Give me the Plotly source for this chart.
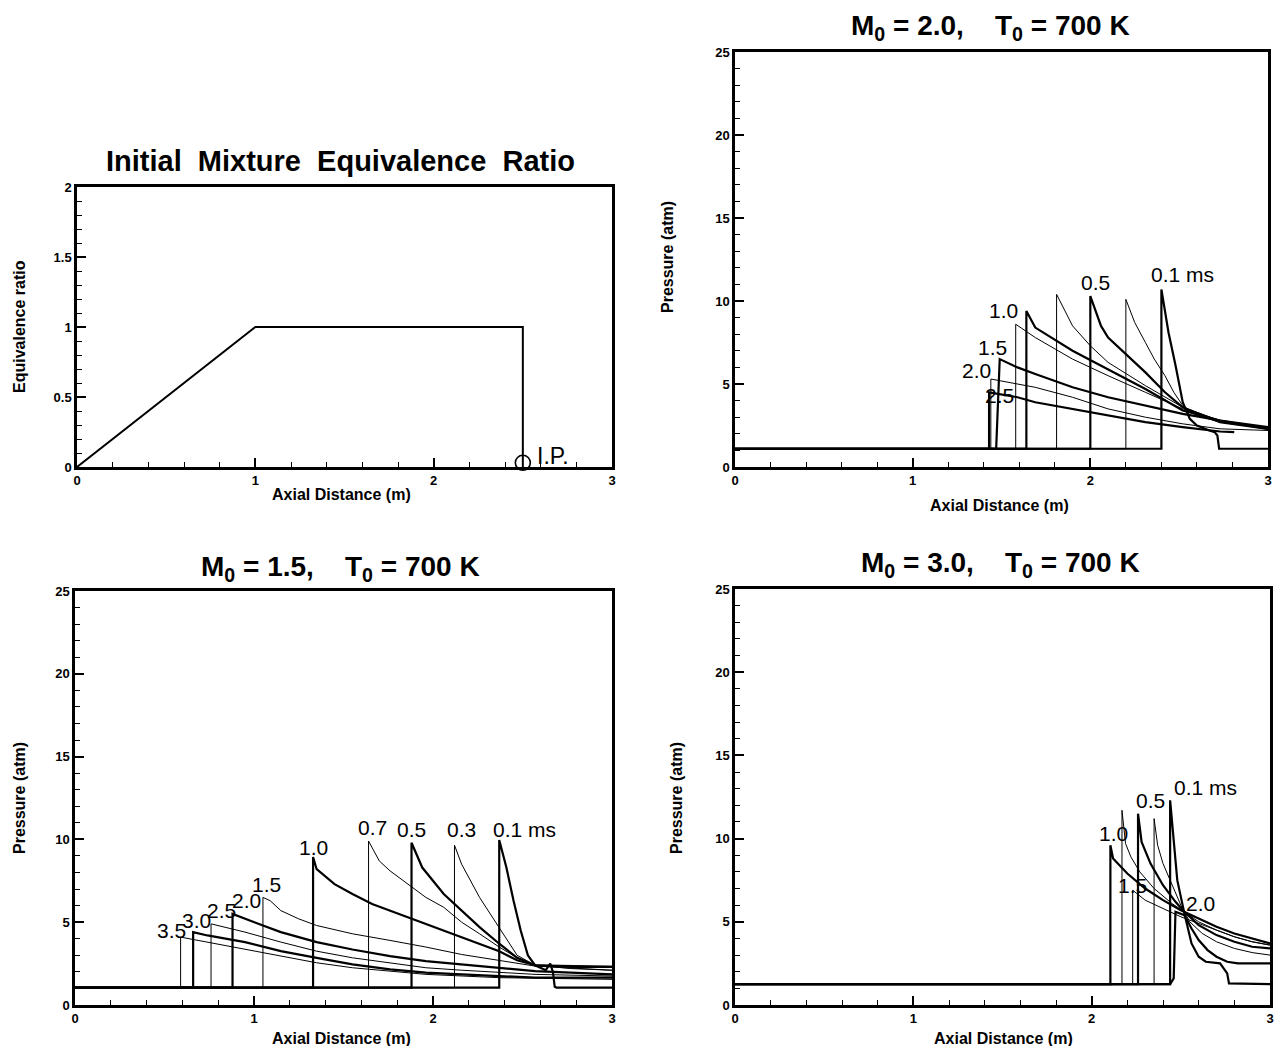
import plotly.graph_objects as go

# ---------------- data ----------------
# Top-left: initial mixture equivalence ratio
phi_x = [0.0, 1.0, 2.5, 2.5]
phi_y = [0.0, 1.0, 1.0, 0.0]
ip_x = [2.5]
ip_y = [0.03]

# M0 = 2.0 pressure profiles (x in m, p in atm)
m20_labels = ["0.1", "0.3", "0.5", "0.7", "1.0", "1.2", "1.5", "2.0", "2.5"]
m20_x = [
    [0, 2.40, 2.40, 2.44, 2.48, 2.52, 2.56, 2.60, 2.67, 2.70, 2.715, 2.725, 3.0],
    [0, 2.20, 2.20, 2.25, 2.31, 2.36, 2.42, 2.47, 2.52, 2.60, 2.73, 3.0],
    [0, 2.00, 2.00, 2.06, 2.10, 2.21, 2.31, 2.42, 2.52, 2.73, 3.0],
    [0, 1.81, 1.81, 1.90, 2.00, 2.10, 2.31, 2.52, 2.73, 3.0],
    [0, 1.64, 1.64, 1.69, 1.90, 2.10, 2.31, 2.52, 2.73, 3.0],
    [0, 1.58, 1.58, 1.69, 1.90, 2.10, 2.31, 2.52, 2.73, 3.0],
    [0, 1.47, 1.49, 1.59, 1.69, 1.90, 2.10, 2.31, 2.52, 2.73, 3.0],
    [0, 1.44, 1.44, 1.59, 1.69, 1.90, 2.10, 2.31, 2.52, 2.73, 3.0],
    [0, 1.43, 1.43, 1.59, 1.69, 1.90, 2.10, 2.31, 2.52, 2.73, 2.81],
]
m20_y = [
    [1.1, 1.1, 10.7, 8.1, 6.1, 3.9, 2.9, 2.5, 2.2, 2.1, 1.9, 1.1, 1.1],
    [1.1, 1.1, 10.1, 8.7, 7.5, 6.5, 5.5, 4.5, 3.7, 3.1, 2.7, 2.3],
    [1.1, 1.1, 10.3, 8.5, 7.8, 6.7, 5.7, 4.5, 3.6, 2.7, 2.3],
    [1.1, 1.1, 10.4, 8.5, 7.3, 6.3, 4.9, 3.6, 2.8, 2.3],
    [1.1, 1.1, 9.4, 8.4, 7.0, 5.9, 4.7, 3.4, 2.8, 2.3],
    [1.1, 1.1, 8.6, 7.8, 6.5, 5.5, 4.5, 3.5, 2.8, 2.3],
    [1.1, 1.1, 6.5, 6.0, 5.6, 4.8, 4.2, 3.7, 3.2, 2.8, 2.4],
    [1.1, 1.1, 5.3, 5.0, 4.8, 4.2, 3.5, 3.0, 2.6, 2.3, 2.2],
    [1.1, 1.1, 4.5, 4.2, 3.9, 3.5, 3.1, 2.7, 2.4, 2.14, 2.1],
]

# M0 = 1.5 pressure profiles
m15_labels = ["0.1", "0.3", "0.5", "0.7", "1.0", "1.5", "2.0", "2.5", "3.0", "3.5"]
m15_x = [
    [0, 2.37, 2.37, 2.41, 2.45, 2.49, 2.53, 2.57, 2.63, 2.655, 2.67, 2.68, 2.69, 3.0],
    [0, 2.12, 2.12, 2.16, 2.26, 2.37, 2.47, 2.57, 2.77, 3.0],
    [0, 1.88, 1.88, 1.94, 2.06, 2.16, 2.26, 2.37, 2.47, 2.57, 2.77, 3.0],
    [0, 1.64, 1.64, 1.70, 1.76, 1.86, 1.96, 2.06, 2.16, 2.26, 2.37, 2.47, 2.57, 3.0],
    [0, 1.33, 1.33, 1.35, 1.45, 1.55, 1.66, 1.76, 1.96, 2.16, 2.37, 2.47, 2.57, 3.0],
    [0, 1.05, 1.05, 1.09, 1.15, 1.25, 1.35, 1.55, 1.76, 1.96, 2.16, 2.37, 2.57, 3.0],
    [0, 0.88, 0.88, 0.95, 1.05, 1.15, 1.35, 1.55, 1.76, 1.96, 2.16, 2.37, 2.57, 2.77, 3.0],
    [0, 0.76, 0.76, 0.84, 0.95, 1.15, 1.35, 1.55, 1.76, 1.96, 2.16, 2.37, 2.57, 3.0],
    [0, 0.66, 0.66, 0.74, 0.95, 1.15, 1.35, 1.55, 1.76, 1.96, 2.16, 2.37, 2.57, 3.0],
    [0, 0.59, 0.59, 0.74, 0.95, 1.15, 1.35, 1.55, 1.76, 1.96, 2.37, 3.0],
]
m15_y = [
    [1.05, 1.05, 9.96, 8.3, 6.3, 4.5, 3.0, 2.4, 2.1, 2.5, 2.0, 1.1, 1.05, 1.05],
    [1.05, 1.05, 9.65, 8.5, 6.5, 4.7, 3.0, 2.4, 2.2, 2.1],
    [1.05, 1.05, 9.8, 8.3, 6.7, 5.7, 4.7, 3.7, 2.85, 2.4, 2.3, 2.3],
    [1.05, 1.05, 9.9, 8.7, 8.1, 7.3, 6.5, 5.9, 5.0, 4.3, 3.5, 2.85, 2.4, 2.3],
    [1.05, 1.05, 8.94, 8.2, 7.3, 6.7, 6.1, 5.7, 4.9, 4.1, 3.25, 2.7, 2.4, 2.3],
    [1.05, 1.05, 6.5, 6.3, 5.7, 5.2, 4.8, 4.3, 3.9, 3.5, 3.05, 2.7, 2.35, 2.1],
    [1.05, 1.05, 5.5, 5.2, 4.8, 4.4, 3.8, 3.35, 2.95, 2.65, 2.45, 2.25, 2.05, 1.95, 1.85],
    [1.05, 1.05, 4.9, 4.7, 4.4, 3.8, 3.25, 2.85, 2.55, 2.25, 2.1, 1.95, 1.85, 1.75],
    [1.05, 1.05, 4.4, 4.2, 3.8, 3.25, 2.85, 2.45, 2.15, 1.95, 1.85, 1.75, 1.65, 1.65],
    [1.05, 1.05, 4.1, 3.8, 3.35, 2.95, 2.55, 2.25, 2.05, 1.85, 1.65, 1.55],
]

# M0 = 3.0 pressure profiles
m30_labels = ["0.1", "0.3", "0.5", "0.7", "1.0", "1.5", "2.0"]
m30_x = [
    [0, 2.44, 2.44, 2.46, 2.48, 2.52, 2.56, 2.60, 2.64, 2.72, 2.74, 2.76, 2.77, 3.0],
    [0, 2.35, 2.35, 2.37, 2.40, 2.45, 2.50, 2.55, 2.62, 2.70, 2.80, 2.90, 3.0],
    [0, 2.26, 2.26, 2.28, 2.33, 2.40, 2.47, 2.52, 2.60, 2.70, 2.80, 2.90, 3.0],
    [0, 2.17, 2.17, 2.19, 2.22, 2.27, 2.35, 2.45, 2.52, 2.60, 2.70, 2.80, 2.90, 3.0],
    [0, 2.105, 2.105, 2.12, 2.20, 2.30, 2.40, 2.50, 2.60, 2.70, 2.80, 2.90, 3.0],
    [0, 2.23, 2.23, 2.30, 2.40, 2.50, 2.60, 2.70, 2.80, 2.90, 3.0],
    [0, 2.44, 2.46, 2.465, 2.47, 2.52, 2.56, 2.60, 2.65, 2.70, 2.76, 2.82, 2.90, 3.0],
]
m30_y = [
    [1.25, 1.25, 12.3, 10.1, 7.5, 5.5, 3.7, 2.9, 2.6, 2.5, 2.2, 1.9, 1.3, 1.25],
    [1.25, 1.25, 11.2, 9.6, 8.5, 7.2, 6.0, 5.0, 4.3, 3.8, 3.4, 3.15, 3.0],
    [1.25, 1.25, 11.5, 9.8, 8.5, 7.2, 6.2, 5.6, 4.8, 4.2, 3.8, 3.5, 3.4],
    [1.25, 1.25, 11.7, 9.7, 8.9, 8.0, 7.0, 6.1, 5.6, 5.0, 4.5, 4.1, 3.8, 3.6],
    [1.25, 1.25, 9.6, 8.8, 7.9, 7.0, 6.3, 5.7, 5.2, 4.7, 4.3, 4.0, 3.7],
    [1.25, 1.25, 6.9, 6.3, 5.8, 5.3, 4.9, 4.5, 4.1, 3.8, 3.6],
    [1.25, 1.25, 1.6, 3.5, 5.6, 5.4, 4.6, 3.9, 3.3, 2.9, 2.6, 2.5, 2.5, 2.5],
]

# in-plot time labels: text, x, y
m20_tags = ["0.1 ms", "0.5", "1.0", "1.5", "2.0", "2.5"]
m20_tag_x = [2.52, 2.03, 1.51, 1.45, 1.36, 1.49]
m20_tag_y = [11.6, 11.1, 9.4, 7.2, 5.8, 4.3]
m15_tags = ["0.1 ms", "0.3", "0.5", "0.7", "1.0", "1.5", "2.0", "2.5", "3.0", "3.5"]
m15_tag_x = [2.51, 2.16, 1.88, 1.66, 1.33, 1.07, 0.96, 0.82, 0.68, 0.54]
m15_tag_y = [10.6, 10.6, 10.6, 10.7, 9.5, 7.3, 6.3, 5.7, 5.1, 4.5]
m30_tags = ["0.1 ms", "0.5", "1.0", "1.5", "2.0"]
m30_tag_x = [2.64, 2.33, 2.12, 2.23, 2.61]
m30_tag_y = [13.1, 12.3, 10.3, 7.2, 6.1]

# ---------------- styling helpers ----------------
# the page body has an 8 px margin, so the figure is drawn 8 px in from the window corner
OFF = 8
W, H = 1283 - 2 * OFF, 1054 - 2 * OFF
FONT = "Liberation Sans, Arial, Helvetica, sans-serif"


def px_x(p):
    return (p - OFF) / W


def px_y(p):
    return 1 - (p - OFF) / H


fig = go.Figure()

# panel definitions: x-domain px, y-domain px (window pixels)
panels = {
    "1": ((77, 612), (187, 467)),
    "2": ((735, 1268), (52, 467)),
    "3": ((75, 612), (591, 1005)),
    "4": ((735, 1270), (589, 1005)),
}

# top-left
fig.add_trace(go.Scatter(x=phi_x, y=phi_y, mode="lines", line=dict(color="black", width=2),
                         xaxis="x", yaxis="y", showlegend=False, hoverinfo="skip"))
fig.add_trace(go.Scatter(x=ip_x, y=ip_y, mode="markers",
                         marker=dict(symbol="circle-open", size=15, color="black", line=dict(width=1.6)),
                         xaxis="x", yaxis="y", showlegend=False, cliponaxis=False, hoverinfo="skip"))


def add_set(xs, ys, ax, widths):
    for x, y, w in zip(xs, ys, widths):
        fig.add_trace(go.Scatter(x=x, y=y, mode="lines", line=dict(color="black", width=w),
                                 xaxis="x" + ax, yaxis="y" + ax, showlegend=False, hoverinfo="skip"))


m20_w = [2.2, 1.0, 2.2, 1.0, 2.2, 1.0, 2.2, 1.0, 2.2]
m15_w = [2.2, 1.0, 2.2, 1.0, 2.2, 1.0, 2.2, 1.0, 2.2, 1.0]
m30_w = [2.2, 1.0, 2.2, 1.0, 2.2, 1.0, 2.2]
add_set(m20_x, m20_y, "2", m20_w)
add_set(m15_x, m15_y, "3", m15_w)
add_set(m30_x, m30_y, "4", m30_w)

annotations = []


def tags(texts, xs, ys, ax):
    for t, x, y in zip(texts, xs, ys):
        annotations.append(dict(text=t, x=x, y=y, xref="x" + ax, yref="y" + ax, showarrow=False,
                                font=dict(family=FONT, size=21, color="black"),
                                xanchor="center", yanchor="middle"))


tags(m20_tags, m20_tag_x, m20_tag_y, "2")
tags(m15_tags, m15_tag_x, m15_tag_y, "3")
tags(m30_tags, m30_tag_x, m30_tag_y, "4")
annotations.append(dict(text="I.P.", x=2.67, y=0.08, xref="x", yref="y", showarrow=False,
                        font=dict(family=FONT, size=23, color="black"), xanchor="center", yanchor="middle"))

# titles
title_font = dict(family=FONT, size=28, color="black", weight="bold")
annotations.append(dict(text="Initial  Mixture  Equivalence  Ratio", x=px_x(340), y=px_y(161), xref="paper",
                        yref="paper", showarrow=False, font=dict(title_font, size=29),
                        xanchor="center", yanchor="middle"))
for txt, cx, cy in [("M<sub>0</sub> = 2.0,    T<sub>0</sub> = 700 K", 990, 27),
                    ("M<sub>0</sub> = 1.5,    T<sub>0</sub> = 700 K", 340, 568),
                    ("M<sub>0</sub> = 3.0,    T<sub>0</sub> = 700 K", 1000, 564)]:
    annotations.append(dict(text=txt, x=px_x(cx), y=px_y(cy), xref="paper", yref="paper", showarrow=False,
                            font=title_font, xanchor="center", yanchor="middle"))

# axis titles as annotations
lab_font = dict(family=FONT, size=16, color="black", weight="bold")
for txt, cx, cy, ang in [("Axial Distance (m)", 341, 494, 0), ("Equivalence ratio", 19, 327, -90),
                         ("Axial Distance (m)", 999, 506, 0), ("Pressure (atm)", 668, 257, -90),
                         ("Axial Distance (m)", 341, 1038, 0), ("Pressure (atm)", 19, 798, -90),
                         ("Axial Distance (m)", 1003, 1038, 0), ("Pressure (atm)", 676, 798, -90)]:
    annotations.append(dict(text=txt, x=px_x(cx), y=px_y(cy), xref="paper", yref="paper", showarrow=False,
                            font=lab_font, textangle=ang, xanchor="center", yanchor="middle"))

tick_font = dict(family=FONT, size=13, color="black", weight="bold")


def xaxis(dom):
    return dict(domain=[px_x(dom[0]), px_x(dom[1])], range=[0, 3], tickvals=[0, 1, 2, 3],
                ticks="inside", ticklen=9, tickwidth=2, tickcolor="black",
                minor=dict(dtick=0.2, ticks="inside", ticklen=5, tickwidth=1, tickcolor="black"),
                showgrid=False, zeroline=False, showline=True, linecolor="black", linewidth=2.5,
                mirror=True, tickfont=tick_font, ticklabelstandoff=0, fixedrange=True)


def yaxis(dom, rng, vals, minor_dt, anchor):
    return dict(domain=[px_y(dom[1]), px_y(dom[0])], range=rng, tickvals=vals,
                ticks="inside", ticklen=9, tickwidth=2, tickcolor="black",
                minor=dict(dtick=minor_dt, ticks="inside", ticklen=5, tickwidth=1, tickcolor="black"),
                showgrid=False, zeroline=False, showline=True, linecolor="black", linewidth=2.5,
                mirror=True, tickfont=tick_font, anchor=anchor, fixedrange=True)


layout = dict(width=W, height=H, margin=dict(l=0, r=0, t=0, b=0, autoexpand=False), plot_bgcolor="white",
              paper_bgcolor="white", annotations=annotations, showlegend=False)
(d1x, d1y), (d2x, d2y), (d3x, d3y), (d4x, d4y) = panels["1"], panels["2"], panels["3"], panels["4"]
layout["xaxis"] = dict(xaxis(d1x), anchor="y")
layout["yaxis"] = yaxis(d1y, [0, 2], [0, 0.5, 1, 1.5, 2], 0.1, "x")
layout["xaxis2"] = dict(xaxis(d2x), anchor="y2")
layout["yaxis2"] = yaxis(d2y, [0, 25], [0, 5, 10, 15, 20, 25], 1, "x2")
layout["xaxis3"] = dict(xaxis(d3x), anchor="y3")
layout["yaxis3"] = yaxis(d3y, [0, 25], [0, 5, 10, 15, 20, 25], 1, "x3")
layout["xaxis4"] = dict(xaxis(d4x), anchor="y4")
layout["yaxis4"] = yaxis(d4y, [0, 25], [0, 5, 10, 15, 20, 25], 1, "x4")
fig.update_layout(**layout)

fig.write_html("out.html")
